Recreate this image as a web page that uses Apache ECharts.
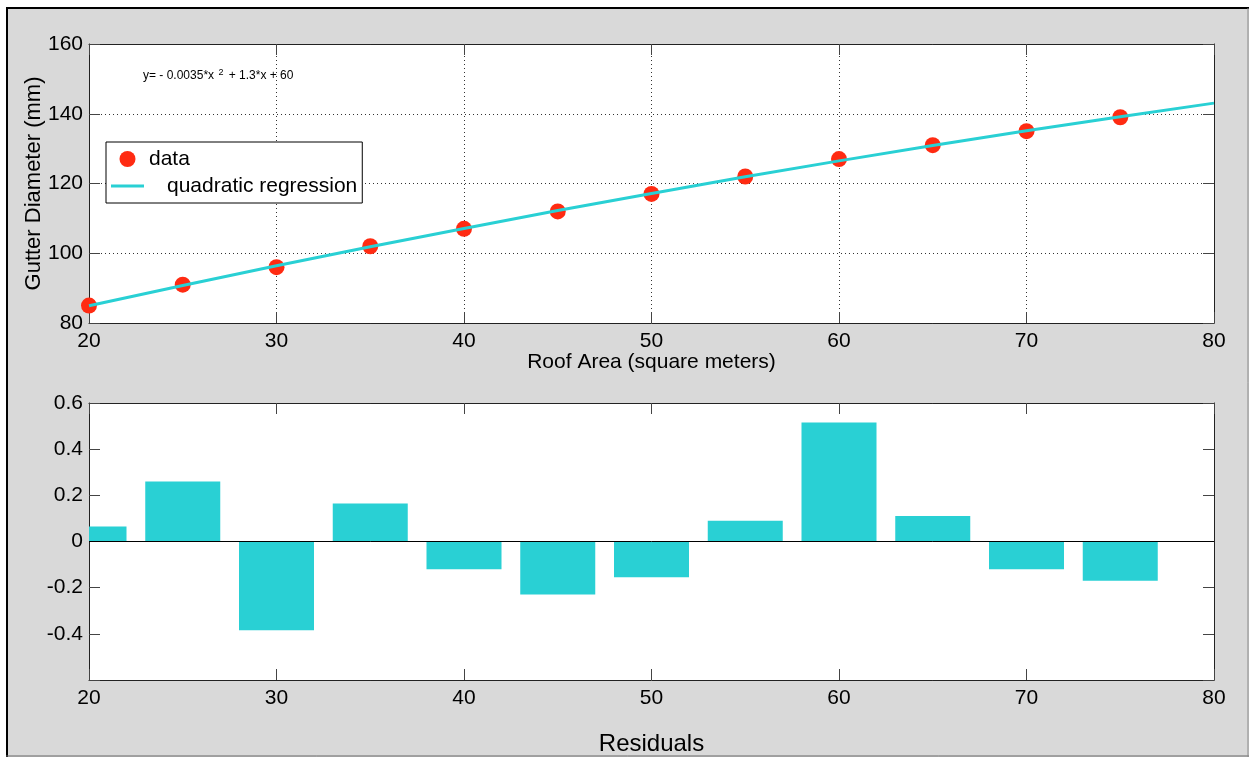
<!DOCTYPE html>
<html><head><meta charset="utf-8">
<script src="https://cdn.jsdelivr.net/npm/echarts@6/dist/echarts.min.js"></script>
<style>html,body{margin:0;padding:0;background:#fff}#c{width:1249px;height:757px}</style>
</head><body><div id="c"></div>
<script>
// ---- data ----
const roofArea = [20, 25, 30, 35, 40, 45, 50, 55, 60, 65, 70, 75];
const gutterDiameter = [85, 91, 96, 102, 107, 112, 117, 122, 127, 131, 135, 139];
const fitX = [20, 25, 30, 35, 40, 45, 50, 55, 60, 65, 70, 75, 80];
const fitY = [84.94, 90.74, 96.39, 101.84, 107.12, 112.23, 117.16, 121.91, 126.49, 130.89, 135.12, 139.17, 143.05];
const residuals = [0.065, 0.26, -0.385, 0.165, -0.12, -0.23, -0.155, 0.09, 0.515, 0.11, -0.12, -0.17];
const xRange = [20, 80];
const xStep = 10;
const diameterRange = [80, 160];
const diameterStep = 20;
const residualRange = [-0.6, 0.6];
const residualStep = 0.2;
const zeroLineX = [20, 80];

// ---- style ----
const FONT = 'Liberation Sans, Arial, Helvetica, sans-serif';
const CYAN = '#29d0d4';
const RED = '#ff2b12';
const BAR_W = 4; // bar width in x units

function axis(o) {
  return Object.assign({
    type: 'value',
    nameMoveOverlap: false,
    axisLine: { show: true, onZero: false, lineStyle: { color: '#222', width: 1 } },
    axisTick: { show: true, inside: true, length: 11, lineStyle: { color: '#444', width: 1 } },
    axisLabel: { show: false, color: '#000', fontSize: 21, fontFamily: FONT, margin: 6 },
    splitLine: { show: false },
    nameTextStyle: { color: '#000', fontSize: 21, fontFamily: FONT }
  }, o);
}
const labelOn = (extra) => Object.assign({ show: true, color: '#000', fontSize: 21, fontFamily: FONT, margin: 6 }, extra || {});
const dotted = { show: true, lineStyle: { color: '#333', type: [1, 3], width: 1 } };

const chart = echarts.init(document.getElementById('c'));
chart.setOption({
  backgroundColor: '#d9d9d9',
  animation: false,
  grid: [
    { left: 89, top: 44, width: 1125, height: 279, show: true, backgroundColor: '#fff', borderWidth: 0 },
    { left: 89, top: 403, width: 1125, height: 280, show: true, backgroundColor: '#fff', borderWidth: 0 }
  ],
  xAxis: [
    axis({ gridIndex: 0, position: 'bottom', min: xRange[0], max: xRange[1], interval: xStep,
      axisLabel: labelOn({ margin: 8 }), splitLine: dotted,
      name: 'Roof Area (square meters)', nameLocation: 'middle', nameGap: 29 }),
    axis({ gridIndex: 0, position: 'top', min: xRange[0], max: xRange[1], interval: xStep }),
    axis({ gridIndex: 1, position: 'bottom', min: xRange[0], max: xRange[1], interval: xStep,
      axisLabel: labelOn({ margin: 8 }),
      name: 'Residuals', nameLocation: 'middle', nameGap: 52,
      nameTextStyle: { color: '#000', fontSize: 24, fontFamily: FONT } }),
    axis({ gridIndex: 1, position: 'top', min: xRange[0], max: xRange[1], interval: xStep })
  ],
  yAxis: [
    axis({ gridIndex: 0, position: 'left', min: diameterRange[0], max: diameterRange[1], interval: diameterStep,
      axisLabel: labelOn(), splitLine: dotted,
      name: 'Gutter Diameter (mm)', nameLocation: 'middle', nameGap: 44,
      nameTextStyle: { color: '#000', fontSize: 22, fontFamily: FONT } }),
    axis({ gridIndex: 0, position: 'right', min: diameterRange[0], max: diameterRange[1], interval: diameterStep }),
    axis({ gridIndex: 1, position: 'left', min: residualRange[0], max: residualRange[1], interval: residualStep,
      axisLabel: labelOn({ formatter: function (v) {
        if (Math.abs(v - residualRange[0]) < 1e-9) return '';
        if (Math.abs(v) < 1e-9) return '0';
        return v.toFixed(1);
      } }) }),
    axis({ gridIndex: 1, position: 'right', min: residualRange[0], max: residualRange[1], interval: residualStep })
  ],
  legend: {
    left: 106, top: 142, orient: 'vertical',
    backgroundColor: '#fff', borderColor: '#000', borderWidth: 1, borderRadius: 0,
    padding: [5, 5, 5, 5], itemGap: 3, itemWidth: 33, itemHeight: 16,
    textStyle: { color: '#000', fontSize: 21, fontFamily: FONT, lineHeight: 24 },
    data: [
      { name: 'data', icon: 'circle', itemStyle: { color: RED, opacity: 1 } },
      { name: 'quadratic regression', icon: 'path://M0,0 L33,0 L33,3 L0,3 Z',
        itemStyle: { color: CYAN }, textStyle: { padding: [0, 0, 0, 18] } }
    ]
  },
  graphic: [
    { type: 'rect', shape: { x: 0, y: 0, width: 1249, height: 7 }, style: { fill: '#fff' }, silent: true },
    { type: 'rect', shape: { x: 0, y: 0, width: 6, height: 757 }, style: { fill: '#fff' }, silent: true },
    { type: 'line', shape: { x1: 6, y1: 8, x2: 1249, y2: 8 }, style: { stroke: '#000', lineWidth: 2 }, silent: true },
    { type: 'line', shape: { x1: 7, y1: 8, x2: 7, y2: 757 }, style: { stroke: '#000', lineWidth: 2 }, silent: true },
    { type: 'line', shape: { x1: 6, y1: 756, x2: 1249, y2: 756 }, style: { stroke: '#666', lineWidth: 1 }, silent: true },
    { type: 'line', shape: { x1: 1248, y1: 8, x2: 1248, y2: 757 }, style: { stroke: '#888', lineWidth: 1 }, silent: true },
    { type: 'text', left: 143, top: 68, z: 100, silent: true,
      style: { text: '{a|y= - 0.0035*x }{s|2}{a| + 1.3*x + 60}',
        rich: { a: { fontSize: 12, fontFamily: FONT, fill: '#000' },
                s: { fontSize: 9, fontFamily: FONT, fill: '#000', padding: [0, 2, 6, 1] } } } }
  ],
  series: [
    { name: 'data', type: 'scatter', xAxisIndex: 0, yAxisIndex: 0, z: 2,
      symbol: 'circle', symbolSize: 16, itemStyle: { color: RED, opacity: 1 },
      data: roofArea.map((x, i) => [x, gutterDiameter[i]]) },
    { name: 'quadratic regression', type: 'line', xAxisIndex: 0, yAxisIndex: 0, z: 3,
      symbol: 'none', showSymbol: false, lineStyle: { color: CYAN, width: 3 }, itemStyle: { color: CYAN },
      data: fitX.map((x, i) => [x, fitY[i]]) },
    { name: 'residuals', type: 'custom', xAxisIndex: 2, yAxisIndex: 2, z: 2,
      data: roofArea.map((x, i) => [x, residuals[i]]),
      renderItem: function (params, api) {
        const x = api.value(0), v = api.value(1);
        const p1 = api.coord([x - BAR_W / 2, v]);
        const p2 = api.coord([x + BAR_W / 2, 0]);
        const rect = echarts.graphic.clipRectByRect({
          x: Math.min(p1[0], p2[0]), y: Math.min(p1[1], p2[1]),
          width: Math.abs(p2[0] - p1[0]), height: Math.abs(p2[1] - p1[1])
        }, {
          x: params.coordSys.x, y: params.coordSys.y,
          width: params.coordSys.width, height: params.coordSys.height
        });
        return rect && { type: 'rect', shape: rect, style: { fill: CYAN } };
      } },
    { name: 'zero', type: 'line', xAxisIndex: 2, yAxisIndex: 2, z: 4, silent: true,
      symbol: 'none', lineStyle: { color: '#000', width: 1 },
      data: zeroLineX.map(x => [x, 0]) }
  ]
});
</script></body></html>
